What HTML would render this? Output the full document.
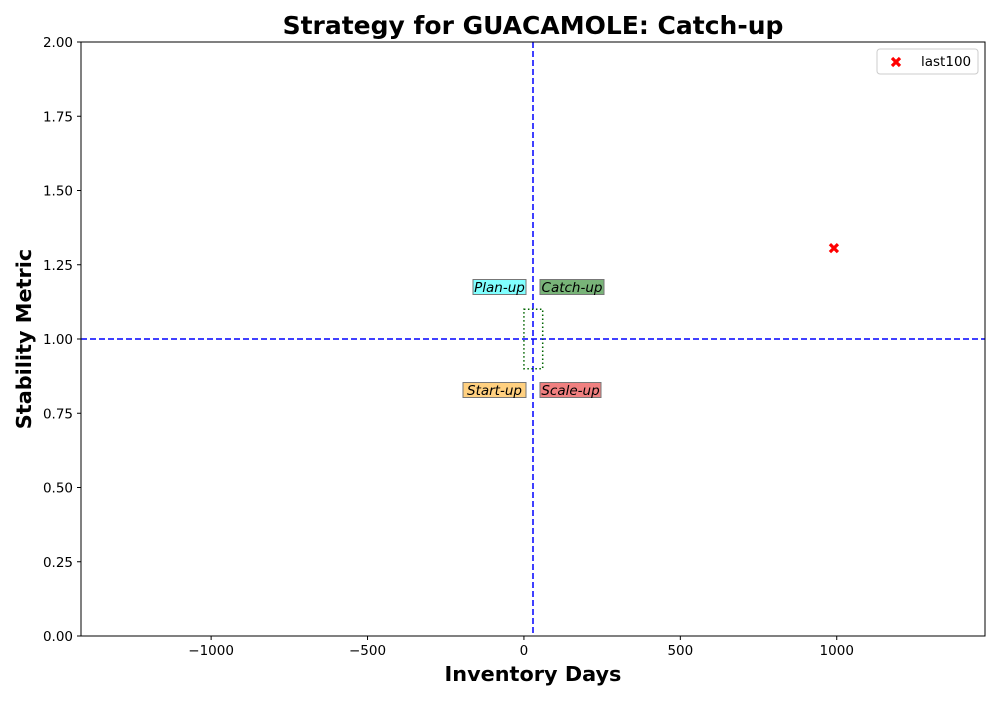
<!DOCTYPE html>
<html><head><meta charset="utf-8"><style>
body{margin:0;background:#fff;}
svg{font-family:"DejaVu Sans","Liberation Sans",sans-serif;}
</style></head><body>
<svg id="chart" width="1000" height="700" xmlns="http://www.w3.org/2000/svg">
<rect width="1000" height="700" fill="#fff"/>
<text x="533" y="34" text-anchor="middle" font-size="25" font-weight="bold">Strategy for GUACAMOLE: Catch-up</text>
<g id="plot"></g>
<text x="533" y="681" text-anchor="middle" font-size="20.8" font-weight="bold">Inventory Days</text>
<text transform="translate(31,339) rotate(-90)" text-anchor="middle" font-size="20.8" font-weight="bold">Stability Metric</text>
</svg>
<script>
const xTicks=[-1000,-500,0,500,1000];
const yTicks=[0,0.25,0.5,0.75,1.0,1.25,1.5,1.75,2.0];
const pointX=[991];
const pointY=[1.306];
const vLine=29;
const hLine=1.0;
const boxX=[0,60];
const boxY=[0.9,1.1];
const X0=81,X1=985,Y0=636,Y1=42,xmin=-1416,xmax=1474,ymin=0,ymax=2;
const sx=v=>X0+(v-xmin)/(xmax-xmin)*(X1-X0);
const sy=v=>Y0-(v-ymin)/(ymax-ymin)*(Y0-Y1);
const NS="http://www.w3.org/2000/svg";
const g=document.getElementById('plot');
function mk(t,a,p){const e=document.createElementNS(NS,t);for(const k in a)e.setAttribute(k,a[k]);(p||g).appendChild(e);return e;}
xTicks.forEach(v=>{const x=sx(v);
const l=mk('line',{x1:x,x2:x,y1:Y0,y2:Y0+4,stroke:'#000'});


const t=mk('text',{x:x,y:Y0+19,'text-anchor':'middle','font-size':13.5});
t.textContent=v<0?'\u2212'+Math.abs(v):String(v);

});
yTicks.forEach(v=>{const y=sy(v);
const l=mk('line',{x1:X0-4,x2:X0,y1:y,y2:y,stroke:'#000'});


const t=mk('text',{x:X0-8,y:y+5,'text-anchor':'end','font-size':13.5});
t.textContent=v.toFixed(2);

});
const vl=mk('line',{x1:sx(vLine),x2:sx(vLine),y1:Y1,y2:Y0,stroke:'#0000ff','stroke-width':1.5,'stroke-dasharray':'6,3'});


const hl=mk('line',{x1:X0,x2:X1,y1:sy(hLine),y2:sy(hLine),stroke:'#0000ff','stroke-width':1.5,'stroke-dasharray':'6,3'});


const bx=mk('rect',{x:sx(boxX[0]),y:sy(boxY[1]),width:sx(boxX[1])-sx(boxX[0]),height:sy(boxY[0])-sy(boxY[1]),fill:'none',stroke:'#006400','stroke-width':1.5,'stroke-dasharray':'1.5,2.5'});


const labs=[['Plan-up',473,526,287,'#80ffff','plan-up-label'],['Catch-up',540,604,287,'#78b478','catch-up-label'],['Start-up',463,526,390,'#ffd080','start-up-label'],['Scale-up',540,601,390,'#f08080','scale-up-label']];
labs.forEach(a=>{const r=mk('rect',{x:a[1],y:a[3]-7.5,width:a[2]-a[1],height:15,fill:a[4],stroke:'#777'});


const t=mk('text',{x:(a[1]+a[2])/2,y:a[3]+5,'text-anchor':'middle','font-size':13.5,'font-style':'italic'});
t.textContent=a[0];

});
pointX.forEach((v,i)=>{const x=sx(v),y=sy(pointY[i]);
const p=mk('path',{d:`M${x-4} ${y-4}L${x+4} ${y+4}M${x+4} ${y-4}L${x-4} ${y+4}`,stroke:'#ff0000','stroke-width':3.2});

});
mk('rect',{x:X0,y:Y1,width:X1-X0,height:Y0-Y1,fill:'none',stroke:'#000'});
const lg=mk('g',{});


mk('rect',{x:877,y:49,width:101,height:25,rx:3,fill:'#fff',stroke:'#ccc'},lg);
mk('path',{d:'M892 58L900 66M900 58L892 66',stroke:'#ff0000','stroke-width':3.2},lg);
const lt=mk('text',{x:921,y:66,'font-size':13.5},lg);
lt.textContent='last100';


</script>
</body></html>
